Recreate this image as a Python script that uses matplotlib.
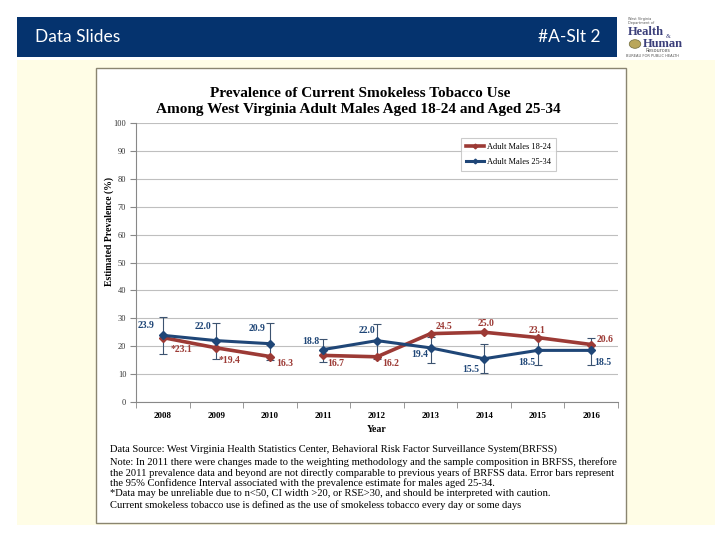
import matplotlib
matplotlib.use("Agg")
import matplotlib.pyplot as plt
import numpy as np
from matplotlib.patches import Rectangle

years = ["2008", "2009", "2010", "2011", "2012", "2013", "2014", "2015", "2016"]
males_18_24 = [23.1, 19.4, 16.3, 16.7, 16.2, 24.5, 25.0, 23.1, 20.6]
males_25_34 = [23.9, 22.0, 20.9, 18.8, 22.0, 19.4, 15.5, 18.5, 18.5]
ci_low_25_34 = [17.1, 15.3, 15.0, 14.5, 15.5, 14.1, 10.4, 13.3, 13.3]
ci_high_25_34 = [30.4, 28.4, 28.4, 22.7, 28.0, 23.3, 20.9, 23.3, 22.9]
labels_18_24 = ["*23.1", "*19.4", "16.3", "16.7", "16.2", "24.5", "25.0", "23.1", "20.6"]
labels_25_34 = ["23.9", "22.0", "20.9", "18.8", "22.0", "19.4", "15.5", "18.5", "18.5"]
yticks = [0, 10, 20, 30, 40, 50, 60, 70, 80, 90, 100]

RED = "#9C3A35"
BLUE = "#1F4677"
SERIF = ["Liberation Serif", "DejaVu Serif"]

W, H = 720, 540
fig = plt.figure(figsize=(7.2, 5.4), dpi=100)
fig.patch.set_facecolor("white")

def fx(x):
    return x / W

def fy(y):
    return 1 - y / H

def rect(x0, y0, x1, y1, **kw):
    fig.patches.append(Rectangle((fx(x0), fy(y1)), fx(x1) - fx(x0), fy(y0) - fy(y1),
                                 transform=fig.transFigure, figure=fig, **kw))

# header bar
rect(17, 17, 617, 57, facecolor="#05336E", edgecolor="none", zorder=0)
fig.text(fx(35), fy(37), "Data Slides", color="white", fontsize=12.5,
         family="Lato", va="center", ha="left")
fig.text(fx(601), fy(37), "#A-Slt 2", color="white", fontsize=12.5,
         family="Lato", va="center", ha="right")
# cream background
rect(17, 60, 715, 525, facecolor="#FFFDE6", edgecolor="none", zorder=0)
# logo (text)
fig.text(fx(628), fy(21), "West Virginia\nDepartment of", fontsize=2.5, color="#555555",
         family="DejaVu Sans", va="center", ha="left", linespacing=1.0)
fig.text(fx(628), fy(32), "Health", fontsize=9, color="#3B3F7A", fontweight="bold",
         family=SERIF, va="center", ha="left")
fig.text(fx(666), fy(37), "&", fontsize=4.5, color="#3B3F7A", family=SERIF, va="center")
fig.text(fx(643), fy(44), "Human", fontsize=9, color="#3B3F7A", fontweight="bold",
         family=SERIF, va="center", ha="left")
fig.text(fx(645), fy(51), "Resources", fontsize=3.5, color="#555555", family="DejaVu Sans",
         va="center", ha="left")
fig.text(fx(626), fy(56), "BUREAU FOR PUBLIC HEALTH", fontsize=2.6, color="#555555",
         family="DejaVu Sans", va="center", ha="left")
fig.patches.append(matplotlib.patches.Circle((fx(635), fy(44)), 0.008, transform=fig.transFigure,
                                             figure=fig, facecolor="#B9A65A", edgecolor="#6E6A3A", lw=0.5))

# chart image panel
rect(96, 68, 626, 523, facecolor="white", edgecolor="#8A8570", linewidth=1.0, zorder=0.5)

# titles
fig.text(fx(360), fy(93), "Prevalence of Current Smokeless Tobacco Use", fontsize=11,
         fontweight="bold", family=SERIF, ha="center", va="center")
fig.text(fx(358), fy(110), "Among West Virginia Adult Males Aged 18-24 and Aged 25-34",
         fontsize=11, fontweight="bold", family=SERIF, ha="center", va="center")

ax = fig.add_axes([fx(136), fy(402), fx(618) - fx(136), fy(123) - fy(402)])
ax.set_zorder(2)
ax.set_facecolor("none")
x = np.arange(len(years))
ax.set_xlim(-0.5, len(years) - 0.5)
ax.set_ylim(0, 100)
ax.set_yticks(yticks)
ax.set_yticklabels([str(v) for v in yticks], family=SERIF, fontsize=6, color="#333333")
ax.set_xticks(x)
ax.set_xticklabels(years, family=SERIF, fontsize=6.5, fontweight="bold")
ax.set_xticks(np.arange(-0.5, len(years)), minor=True)
ax.tick_params(axis="x", which="major", length=0, pad=7)
ax.tick_params(axis="x", which="minor", length=4, color="#888888")
ax.tick_params(axis="y", length=4, color="#888888", pad=3)
ax.yaxis.grid(True, color="#BFBFBF", linewidth=0.8)
ax.set_axisbelow(True)
for s in ["top", "right"]:
    ax.spines[s].set_visible(False)
ax.spines["left"].set_color("#888888")
ax.spines["bottom"].set_color("#888888")

# error bars (25-34)
m = np.array(males_25_34)
lo = m - np.array(ci_low_25_34)
hi = np.array(ci_high_25_34) - m
ax.errorbar(x, m, yerr=[lo, hi], fmt="none", ecolor="#3C5370", elinewidth=0.8,
            capsize=3, capthick=0.8, zorder=3)

# lines, broken between 2010 and 2011
seg1 = slice(0, 3)
seg2 = slice(3, 9)
r = np.array(males_18_24)
for sl in (seg1, seg2):
    ax.plot(x[sl], r[sl], color=RED, lw=2.6, marker="D", ms=4, zorder=4,
            label="Adult Males 18-24" if sl is seg1 else None)
for sl in (seg1, seg2):
    ax.plot(x[sl], m[sl], color=BLUE, lw=2.2, marker="D", ms=4, zorder=5,
            label="Adult Males 25-34" if sl is seg1 else None)

# data label offsets in pixels (dx, dy up-positive, horizontal alignment)
P = 72 / 100.0
blue_off = [(-8, 10, "right"), (-5, 14, "right"), (-4, 15, "right"), (-4, 8, "right"),
            (-2, 10, "right"), (-2, -7, "right"), (-5, -11, "right"), (-2, -12, "right"),
            (3, -12, "left")]
red_off = [(8, -12, "left"), (2, -13, "left"), (6, -7, "left"), (4, -8, "left"),
           (5, -7, "left"), (5, 7, "left"), (2, 9, "center"), (-1, 7, "center"),
           (5, 5, "left")]
for i in range(len(years)):
    dx, dy, ha = blue_off[i]
    ax.annotate(labels_25_34[i], (x[i], m[i]), xytext=(dx * P, dy * P), textcoords="offset points",
                ha=ha, va="center", fontsize=7, fontweight="bold", family=SERIF, color=BLUE, zorder=6)
    dx, dy, ha = red_off[i]
    ax.annotate(labels_18_24[i], (x[i], r[i]), xytext=(dx * P, dy * P), textcoords="offset points",
                ha=ha, va="center", fontsize=7, fontweight="bold", family=SERIF, color=RED, zorder=6)

ax.set_xlabel("Year", family=SERIF, fontsize=7, fontweight="bold", labelpad=4)
ax.set_ylabel("Estimated Prevalence (%)", family=SERIF, fontsize=7, fontweight="bold")
ax.yaxis.set_label_coords(-0.045, 0.61)

leg = ax.legend(loc="upper left", bbox_to_anchor=(0.665, 0.962), prop={"family": SERIF, "size": 6},
                frameon=True, fancybox=False, edgecolor="#BFBFBF", handlelength=2.2,
                handletextpad=0.3, borderpad=0.6, labelspacing=0.9, markerscale=0.6)
leg.get_frame().set_linewidth(0.8)

notes = [
    "Data Source: West Virginia Health Statistics Center, Behavioral Risk Factor Surveillance System(BRFSS)",
    "Note: In 2011 there were changes made to the weighting methodology and the sample composition in BRFSS, therefore",
    "the 2011 prevalence data and beyond are not directly comparable to previous years of BRFSS data. Error bars represent",
    "the 95% Confidence Interval associated with the prevalence estimate for males aged 25-34.",
    "*Data may be unreliable due to n<50, CI width >20, or RSE>30, and should be interpreted with caution.",
    "Current smokeless tobacco use is defined as the use of smokeless tobacco every day or some days",
]
note_y = [449, 462, 473, 483, 494, 505]
for t, yy in zip(notes, note_y):
    fig.text(fx(110), fy(yy), t, family=SERIF, fontsize=7.55, ha="left", va="center")

fig.savefig("out.png", dpi=100)
